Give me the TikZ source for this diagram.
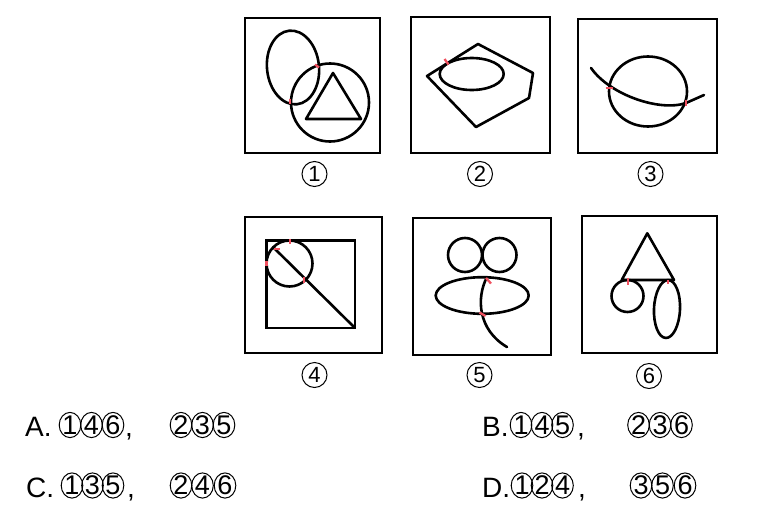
\documentclass[tikz,border=0pt]{standalone}
\usepackage{fontspec}
\setmainfont{Liberation Sans}
\definecolor{tickred}{RGB}{240,80,95}
\newcommand\paneldig[4]{%
  \node[pdig] (#1) at (#2,#3) {#4};
  \draw[ringline] (#1.center) circle [radius=12.5];}
\newcommand\ansdig[4]{%
  \node[adig] (#1) at (#2,#3) {#4};
  \draw[ringline] (#1.center) ellipse [x radius=10.8, y radius=12.6];}
\begin{document}
\begin{tikzpicture}[x=1pt,y=-1pt,
  frame/.style={line width=2.3pt},
  figline/.style={line width=2.6pt, line join=round, line cap=round},
  thinbox/.style={line width=2.2pt},
  redtick/.style={draw=tickred, line width=2.3pt},
  ringline/.style={line width=1pt},
  pdig/.style={inner sep=0pt, font=\fontsize{22}{22}\selectfont},
  adig/.style={inner sep=0pt, font=\fontsize{27}{27}\selectfont},
  anslet/.style={inner sep=0pt, anchor=base west, font=\fontsize{28}{28}\selectfont}]
\useasboundingbox (0,0) rectangle (759,506);
\fill[white] (0,0) rectangle (759,506);

% ---------- frames ----------
\draw[frame] (245,18) rectangle (380,153);
\draw[frame] (411,17) rectangle (550,153);
\draw[frame] (578,19) rectangle (717,153);
\draw[frame] (245,217) rectangle (382,353);
\draw[frame] (413,218) rectangle (551,355);
\draw[frame] (582,216) rectangle (717,353);

% ---------- panel 1 ----------
\draw[figline, rotate around={6:(293,67.5)}] (293,67.5) ellipse [x radius=26, y radius=37];
\draw[figline] (330,102.5) circle [radius=39];
\draw[figline] (333,73) -- (306,119) -- (361,119) -- cycle;
\draw[redtick] (315,64.5) -- (319,67.5);
\draw[redtick] (290,98.5) -- (290,103.5);

% ---------- panel 2 ----------
\draw[figline] (427,76) -- (478,44) -- (533,73) -- (529,98) -- (476,127) -- cycle;
\draw[figline] (471.7,74) ellipse [x radius=32, y radius=16];
\draw[redtick] (444.5,59) -- (448.5,64.5);

% ---------- panel 3 ----------
\draw[figline] (648,91.5) ellipse [x radius=39, y radius=35];
\draw[figline] (591,68) .. controls (610,95) and (660,112) .. (686,103) -- (704,95);
\draw[redtick] (605.5,88.3) -- (612.5,88.3);
\draw[redtick] (686,99.5) -- (686,106);

% ---------- panel 4 ----------
\draw[thinbox] (266.5,240.5) rectangle (355,328);
\draw[figline] (289.5,263.5) circle [radius=23];
\draw[figline] (273.2,247.2) -- (355,328);
\draw[redtick] (290,239) -- (290,243.5);
\draw[redtick] (266.5,261) -- (266.5,266);
\draw[redtick] (274,249.3) -- (279.5,249.3);
\draw[redtick] (304.3,276.5) -- (304.3,283);

% ---------- panel 5 ----------
\draw[figline] (465,255) circle [radius=17];
\draw[figline] (499.5,255) circle [radius=17];
\draw[figline] (482.2,295.5) ellipse [x radius=46.5, y radius=18.3];
\draw[figline] (487,277) .. controls (476,298) and (478,330) .. (507,347);
\draw[redtick] (486,278) -- (491,283.5);
\draw[redtick] (479.5,312.5) -- (485.5,316);

% ---------- panel 6 ----------
\draw[figline] (647.3,233.3) -- (621.7,280) -- (674,280) -- cycle;
\draw[figline] (627.5,296) circle [radius=16];
\draw[figline, rotate around={-2.5:(667,309)}] (667,309) ellipse [x radius=13, y radius=29];
\draw[redtick] (628.3,277.5) -- (628.3,284.5);
\draw[redtick] (667.7,280) -- (667.7,284);

% ---------- panel labels ----------
\paneldig{p1}{314.5}{174}{1}
\paneldig{p2}{480}{174}{2}
\paneldig{p3}{650.5}{174}{3}
\paneldig{p4}{314.5}{375}{4}
\paneldig{p5}{479.5}{375}{5}
\paneldig{p6}{649}{376}{6}

% ---------- answers ----------
\node[anslet] (la) at (25,436.5) {A.};
\ansdig{a1}{70}{425}{1}
\ansdig{a2}{91.5}{425}{4}
\ansdig{a3}{113}{425}{6}
\node[anslet] (ca) at (125,436.5) {,};
\ansdig{a4}{181}{425}{2}
\ansdig{a5}{202.5}{425}{3}
\ansdig{a6}{224}{425}{5}

\node[anslet] (lb) at (482,436.5) {B.};
\ansdig{b1}{521}{425}{1}
\ansdig{b2}{542}{425}{4}
\ansdig{b3}{562.5}{425}{5}
\node[anslet] (cb) at (577,436.5) {,};
\ansdig{b4}{638.5}{425}{2}
\ansdig{b5}{660}{425}{3}
\ansdig{b6}{681.5}{425}{6}

\node[anslet] (lc) at (26,497) {C.};
\ansdig{c1}{72}{485.5}{1}
\ansdig{c2}{92.5}{485.5}{3}
\ansdig{c3}{113}{485.5}{5}
\node[anslet] (cc) at (127,497) {,};
\ansdig{c4}{181}{485.5}{2}
\ansdig{c5}{202.5}{485.5}{4}
\ansdig{c6}{225}{485.5}{6}

\node[anslet] (ld) at (482,497) {D.};
\ansdig{d1}{522}{485.5}{1}
\ansdig{d2}{542}{485.5}{2}
\ansdig{d3}{562.5}{485.5}{4}
\node[anslet] (cd) at (578,497) {,};
\ansdig{d4}{641}{485.5}{3}
\ansdig{d5}{662.5}{485.5}{5}
\ansdig{d6}{685}{485.5}{6}
\end{tikzpicture}
\end{document}
